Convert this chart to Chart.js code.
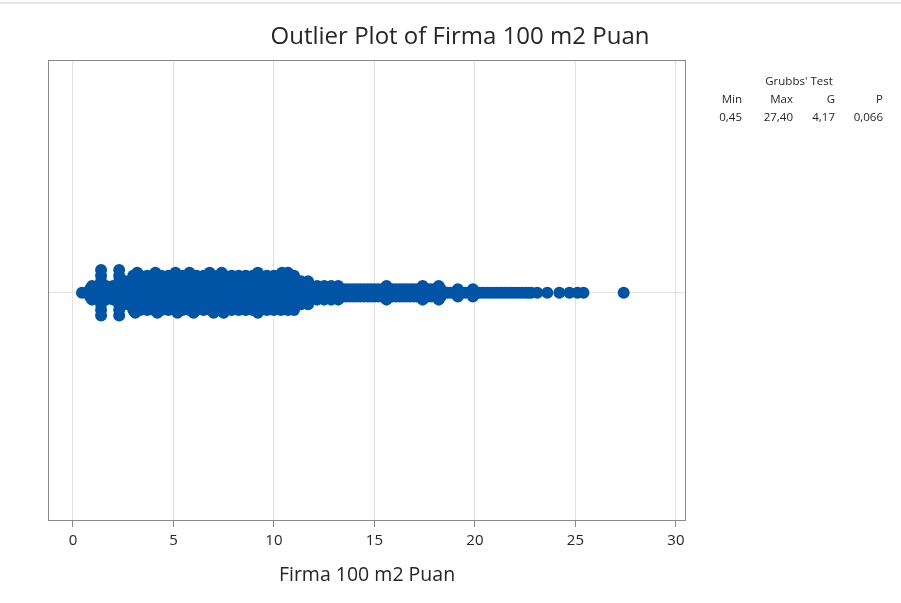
<!DOCTYPE html>
<html>
<head>
<meta charset="utf-8">
<script src="https://cdn.jsdelivr.net/npm/chart.js@4.4.1/dist/chart.umd.min.js"></script>
<style>
  html, body { margin: 0; padding: 0; background: #fff; }
  #wrap { width: 901px; height: 603px; position: relative; }
</style>
</head>
<body>
<div id="wrap"><canvas id="outlierChart"></canvas></div>
<script>
const chartTitle = 'Outlier Plot of Firma 100 m2 Puan';
const axisLabel = 'Firma 100 m2 Puan';
const xTicks = [0, 5, 10, 15, 20, 25, 30];
const grubbsTitle = "Grubbs' Test";
const grubbsHeader = ['Min', 'Max', 'G', 'P'];
const grubbsValues = ['0,45', '27,40', '4,17', '0,066'];

// x values of the stacked dots, one array per jitter level
const rowCenter = [0.45, 0.72, 1.05, 1.38, 1.7, 2.02, 2.35, 2.7, 3.05, 3.4, 3.78, 4.1, 4.45, 4.82, 5.15,
  5.5, 5.86, 6.2, 6.55, 6.9, 7.25, 7.62, 7.95, 8.3, 8.68, 9.02, 9.4, 9.75, 10.1, 10.45, 10.8, 11.15,
  11.52, 11.7, 11.88, 12.05, 12.22, 12.4, 12.6, 12.78, 12.95, 13.12, 13.3, 13.48, 13.66, 13.84, 14.02,
  14.2, 14.38, 14.55, 14.72, 14.9, 15.08, 15.26, 15.45, 15.62, 15.8, 15.98, 16.15, 16.32, 16.5, 16.68,
  16.86, 17.04, 17.22, 17.4, 17.58, 17.75, 17.92, 18.1, 18.28, 18.45, 18.62, 18.8, 18.98, 19.16, 19.34,
  19.52, 19.7, 19.88, 20.05, 20.22, 20.4, 20.58, 20.75, 20.92, 21.1, 21.28, 21.45, 21.62, 21.8, 21.98,
  22.15, 22.32, 22.5, 22.65, 22.8, 23.1, 23.6, 24.2, 24.7, 25.1, 25.4, 27.4];
const rowInner = [0.85, 1.18, 1.52, 1.88, 2.2, 2.55, 2.9, 3.25, 3.6, 3.95, 4.3, 4.65, 5.0, 5.38, 5.72,
  6.08, 6.42, 6.78, 7.12, 7.48, 7.82, 8.18, 8.52, 8.88, 9.22, 9.58, 9.92, 10.28, 10.62, 10.98, 11.32,
  11.5, 11.68, 11.85, 12.02, 12.2, 12.38, 12.55, 12.72, 12.9, 13.08, 13.25, 13.42, 13.6, 13.78, 13.95,
  14.12, 14.3, 14.5, 14.68, 14.85, 15.02, 15.2, 15.38, 15.55, 15.72, 15.9, 16.08, 16.25, 16.42, 16.6,
  16.78, 16.95, 17.12, 17.3, 17.48, 17.65, 17.82, 18.0, 18.15, 18.3, 19.15, 19.9];
const rowMid = [0.95, 1.3, 1.65, 2.0, 2.35, 2.7, 3.05, 3.4, 3.75, 4.1, 4.45, 4.8, 5.15, 5.5, 5.85, 6.2,
  6.55, 6.9, 7.25, 7.6, 7.95, 8.3, 8.65, 9.0, 9.35, 9.7, 10.05, 10.4, 10.75, 11.1, 11.45, 11.8, 12.15,
  12.5, 12.85, 13.2, 15.6, 17.4, 18.2];
const rowOuter = [1.4, 2.3, 2.6, 2.95, 3.3, 3.65, 4.0, 4.35, 4.7, 5.05, 5.4, 5.75, 6.1, 6.45, 6.8, 7.15,
  7.5, 7.85, 8.2, 8.55, 8.9, 9.25, 9.6, 9.95, 10.3, 10.65, 11.0, 11.35, 11.7];
const rowEdge = [1.4, 2.3, 3.0, 3.35, 3.7, 4.05, 4.4, 4.75, 5.1, 5.45, 5.8, 6.15, 6.5, 6.85, 7.2, 7.55,
  7.9, 8.25, 8.6, 8.95, 9.3, 9.65, 10.0, 10.35, 10.7, 11.0];
const bumpsUpper = [3.2, 4.1, 5.1, 5.8, 6.8, 7.4, 9.2, 10.4, 10.7];
const bumpsLower = [3.1, 4.2, 5.2, 6.0, 7.0, 7.5, 9.2];
const spikes = [1.4, 2.3];

// jitter heights of the levels above (mirrored below the centre line)
const levelY = { inner: 0.016, mid: 0.03, outer: 0.05, edge: 0.075, bump: 0.088, spike: 0.1 };

const dotColor = '#0054a6';
const textColor = '#262626';
const fontFamily = "'Open Sans', 'Noto Sans', sans-serif";

const pts = (xs, y) => xs.map(x => ({ x: x, y: y }));

const datasets = [
  pts(rowCenter, 0),
  pts(rowInner, levelY.inner), pts(rowInner, -levelY.inner),
  pts(rowMid, levelY.mid), pts(rowMid, -levelY.mid),
  pts(rowOuter, levelY.outer), pts(rowOuter, -levelY.outer),
  pts(rowEdge, levelY.edge), pts(rowEdge, -levelY.edge),
  pts(bumpsUpper, levelY.bump), pts(bumpsLower, -levelY.bump),
  pts(spikes, levelY.spike), pts(spikes, -levelY.spike)
].map(d => ({
  data: d,
  backgroundColor: dotColor,
  borderWidth: 0,
  pointRadius: 6,
  pointHoverRadius: 6
}));

const decorations = {
  id: 'decorations',
  afterDraw(chart) {
    const ctx = chart.ctx;
    const a = chart.chartArea;
    ctx.save();
    // faint line along the top of the picture
    ctx.strokeStyle = '#e4e4e4';
    ctx.lineWidth = 2;
    ctx.beginPath();
    ctx.moveTo(0, 3);
    ctx.lineTo(chart.width, 3);
    ctx.stroke();
    // frame of the plot area
    ctx.strokeStyle = '#8a8a8a';
    ctx.lineWidth = 1;
    ctx.strokeRect(a.left + 0.5, a.top + 0.5, a.right - a.left - 1, a.bottom - a.top - 1);
    // title
    ctx.fillStyle = textColor;
    ctx.textAlign = 'center';
    ctx.textBaseline = 'middle';
    ctx.font = '24px ' + fontFamily;
    ctx.fillText(chartTitle, 460, 37);
    // Grubbs' test table
    ctx.font = '11.5px ' + fontFamily;
    ctx.fillText(grubbsTitle, 799, 82);
    const colRight = [742, 793, 835, 883];
    ctx.textAlign = 'right';
    grubbsHeader.forEach((t, i) => ctx.fillText(t, colRight[i], 100));
    grubbsValues.forEach((t, i) => ctx.fillText(t, colRight[i], 118));
    ctx.restore();
  }
};

new Chart(document.getElementById('outlierChart'), {
  type: 'scatter',
  data: { datasets: datasets },
  options: {
    responsive: true,
    maintainAspectRatio: false,
    animation: false,
    layout: { padding: { left: 48, right: 215, top: 60, bottom: 0 } },
    plugins: {
      legend: { display: false },
      tooltip: { enabled: false }
    },
    scales: {
      x: {
        type: 'linear',
        min: -1.24,
        max: 30.5,
        afterFit: s => { s.height = 82; },
        afterBuildTicks: s => { s.ticks = xTicks.map(v => ({ value: v })); },
        ticks: {
          includeBounds: false,
          color: textColor,
          padding: 5,
          font: { family: fontFamily, size: 15 }
        },
        grid: { color: '#e2e2e2', tickColor: '#888888', tickLength: 6 },
        border: { display: false },
        title: {
          display: true,
          text: axisLabel,
          color: textColor,
          padding: { top: 0, bottom: 16 },
          font: { family: fontFamily, size: 19.5 }
        }
      },
      y: {
        type: 'linear',
        min: -1,
        max: 1.02,
        afterFit: s => { s.width = 0; },
        afterBuildTicks: s => { s.ticks = [{ value: 0 }]; },
        ticks: { display: false },
        grid: { color: '#e2e2e2', drawTicks: false },
        border: { display: false }
      }
    }
  },
  plugins: [decorations]
});
</script>
</body>
</html>
